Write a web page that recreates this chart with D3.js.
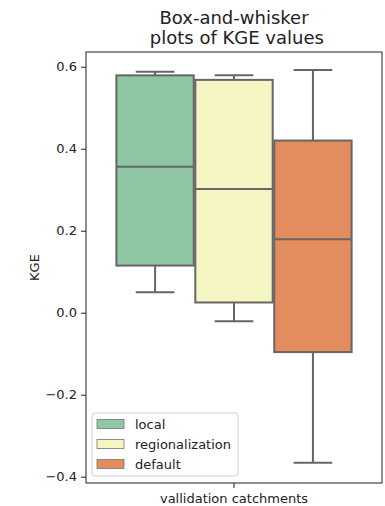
<!DOCTYPE html>
<html>
<head>
<meta charset="utf-8">
<script src="https://cdn.jsdelivr.net/npm/d3@7"></script>
<style>
  html, body { margin: 0; padding: 0; background: #fff; }
  svg { display: block; font-family: "DejaVu Sans", sans-serif; }
</style>
</head>
<body>
<svg id="chart" width="385" height="506"></svg>
<script>
// Box statistics per method (KGE over validation catchments)
const groups     = ["local", "regionalization", "default"];
const whiskerLow = [0.050, -0.021, -0.366];
const q1         = [0.115,  0.025, -0.096];
const median     = [0.356,  0.302,  0.179];
const q3         = [0.579,  0.568,  0.420];
const whiskerHigh= [0.588,  0.579,  0.592];
const colors     = ["#8fc7a4", "#f5f5c4", "#e38d5e"];
const category   = ["vallidation catchments"];
const yTicks     = [-0.4, -0.2, 0.0, 0.2, 0.4, 0.6];

const svg = d3.select("#chart");
const m = { left: 86, right: 382, top: 52, bottom: 483 };
const lineColor = "#666666";
const fs = 13;

const y = d3.scaleLinear().domain([-0.4154, 0.636]).range([m.bottom, m.top]);
const x = d3.scaleBand().domain(category).range([m.left, m.right]).paddingInner(0).paddingOuter(0);
// hue offsets inside the category (total width 0.8 of the band)
const hue = d3.scaleBand().domain(groups)
  .range([x(category[0]) + x.bandwidth() * 0.1, x(category[0]) + x.bandwidth() * 0.9]);

// Title
const title = svg.append("text").attr("text-anchor", "middle")
  .attr("font-size", 18).attr("fill", "#222");
title.append("tspan").attr("x", (m.left + m.right) / 2).attr("y", 23.5).text("Box-and-whisker");
title.append("tspan").attr("x", (m.left + m.right) / 2).attr("y", 43.5).text(" plots of KGE values");

// Axes
const yAxis = d3.axisLeft(y).tickValues(yTicks).tickSize(5).tickPadding(4)
  .tickFormat(d => d3.format(".1f")(d).replace("-", "\u2212"));
const gy = svg.append("g").attr("transform", `translate(${m.left},0)`).call(yAxis);
gy.select(".domain").remove();
gy.selectAll("text").attr("font-size", fs).attr("fill", "#222").attr("font-family", "DejaVu Sans");
gy.selectAll("line").attr("stroke", "#222").attr("stroke-width", 1);

const xAxis = d3.axisBottom(x).tickSize(5).tickPadding(5.5);
const gx = svg.append("g").attr("transform", `translate(0,${m.bottom})`).call(xAxis);
gx.select(".domain").remove();
gx.selectAll("text").attr("font-size", fs).attr("fill", "#222").attr("font-family", "DejaVu Sans");
gx.selectAll("line").attr("stroke", "#222").attr("stroke-width", 1);

svg.append("text").attr("transform", `translate(39,${(m.top + m.bottom) / 2}) rotate(-90)`)
  .attr("text-anchor", "middle").attr("font-size", fs).attr("fill", "#222").text("KGE");

// Boxes
const data = groups.map((g, i) => ({
  g, lo: whiskerLow[i], q1: q1[i], med: median[i], q3: q3[i], hi: whiskerHigh[i], c: colors[i]
}));
const bw = hue.bandwidth() * 0.98;
const boxes = svg.append("g").selectAll("g").data(data).join("g")
  .attr("transform", d => `translate(${hue(d.g) + hue.bandwidth() / 2},0)`);

boxes.append("line").attr("x1", 0).attr("x2", 0)
  .attr("y1", d => y(d.q3)).attr("y2", d => y(d.hi))
  .attr("stroke", lineColor).attr("stroke-width", 2);
boxes.append("line").attr("x1", 0).attr("x2", 0)
  .attr("y1", d => y(d.q1)).attr("y2", d => y(d.lo))
  .attr("stroke", lineColor).attr("stroke-width", 2);
boxes.append("line").attr("x1", -bw / 4).attr("x2", bw / 4)
  .attr("y1", d => y(d.hi)).attr("y2", d => y(d.hi))
  .attr("stroke", lineColor).attr("stroke-width", 2);
boxes.append("line").attr("x1", -bw / 4).attr("x2", bw / 4)
  .attr("y1", d => y(d.lo)).attr("y2", d => y(d.lo))
  .attr("stroke", lineColor).attr("stroke-width", 2);
boxes.append("rect").attr("x", -bw / 2).attr("width", bw)
  .attr("y", d => y(d.q3)).attr("height", d => y(d.q1) - y(d.q3))
  .attr("fill", d => d.c).attr("stroke", lineColor).attr("stroke-width", 2);
boxes.append("line").attr("x1", -bw / 2).attr("x2", bw / 2)
  .attr("y1", d => y(d.med)).attr("y2", d => y(d.med))
  .attr("stroke", lineColor).attr("stroke-width", 2);

// Frame
svg.append("rect").attr("x", m.left).attr("y", m.top)
  .attr("width", m.right - m.left).attr("height", m.bottom - m.top)
  .attr("fill", "none").attr("stroke", "#222").attr("stroke-width", 1);

// Legend
const lg = svg.append("g").attr("transform", "translate(92,413)");
lg.append("rect").attr("width", 146).attr("height", 63).attr("rx", 3)
  .attr("fill", "rgba(255,255,255,0.8)").attr("stroke", "#d0d0d0").attr("stroke-width", 1);
const items = lg.selectAll("g.item").data(data).join("g").attr("class", "item")
  .attr("transform", (d, i) => `translate(0,${11 + i * 20})`);
items.append("rect").attr("x", 5).attr("y", -4.5).attr("width", 27).attr("height", 9)
  .attr("fill", d => d.c).attr("stroke", "#777").attr("stroke-width", 0.8);
items.append("text").attr("x", 43).attr("y", 0).attr("dy", "0.35em")
  .attr("font-size", fs).attr("fill", "#222").text(d => d.g);
</script>
</body>
</html>
